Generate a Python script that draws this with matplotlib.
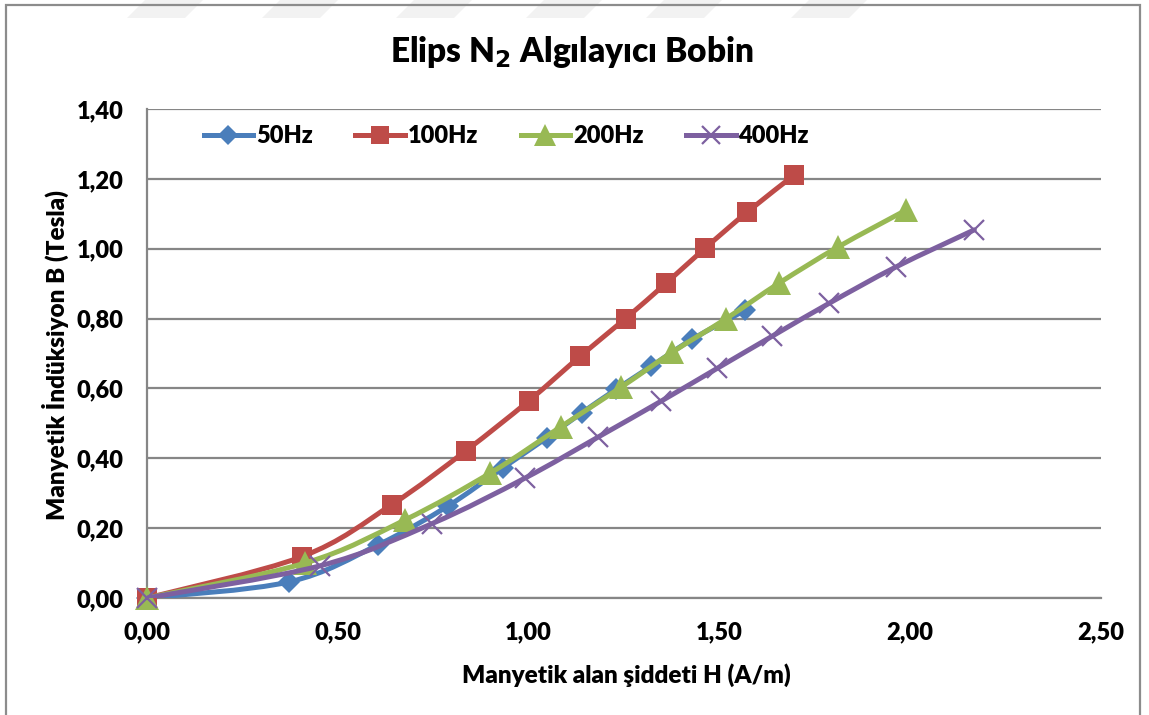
import matplotlib.pyplot as plt
from matplotlib.lines import Line2D
from matplotlib.patches import PathPatch, Polygon, Rectangle
from matplotlib.path import Path
from matplotlib.ticker import FuncFormatter, MultipleLocator

plt.rcParams["font.family"] = ["Lato", "DejaVu Sans"]
plt.rcParams["font.weight"] = "heavy"

# Magnetic field strength H (A/m) and flux density B (Tesla) per frequency
h_50 = [0, 0.372, 0.605, 0.788, 0.932, 1.047, 1.139, 1.230, 1.322, 1.429, 1.568]
b_50 = [0, 0.046, 0.152, 0.263, 0.372, 0.458, 0.530, 0.598, 0.664, 0.741, 0.824]
h_100 = [0, 0.405, 0.641, 0.835, 1.000, 1.136, 1.254, 1.361, 1.463, 1.573, 1.696]
b_100 = [0, 0.118, 0.267, 0.421, 0.564, 0.693, 0.800, 0.902, 1.002, 1.105, 1.211]
h_200 = [0, 0.414, 0.675, 0.900, 1.084, 1.243, 1.377, 1.518, 1.657, 1.811, 1.990]
b_200 = [0, 0.100, 0.223, 0.358, 0.490, 0.604, 0.704, 0.800, 0.902, 1.005, 1.111]
h_400 = [0, 0.453, 0.747, 0.990, 1.181, 1.348, 1.495, 1.639, 1.788, 1.963, 2.168]
b_400 = [0, 0.092, 0.213, 0.343, 0.460, 0.564, 0.658, 0.750, 0.844, 0.948, 1.054]

labels = ["50Hz", "100Hz", "200Hz", "400Hz"]
colors = ["#4A7EBB", "#BE4B48", "#98B954", "#7D60A0"]
markers = ["D", "s", "^", "x"]
marker_sizes = [11, 14, 17, 14]

WEIGHT = "heavy"


def smooth_path(xs, ys):
    # cubic bezier through the points, Catmull-Rom style tangents
    pts = list(zip(xs, ys))
    verts = [pts[0]]
    codes = [Path.MOVETO]
    for i in range(len(pts) - 1):
        p0 = pts[max(i - 1, 0)]
        p1 = pts[i]
        p2 = pts[i + 1]
        p3 = pts[min(i + 2, len(pts) - 1)]
        c1 = (p1[0] + (p2[0] - p0[0]) / 6, p1[1] + (p2[1] - p0[1]) / 6)
        c2 = (p2[0] - (p3[0] - p1[0]) / 6, p2[1] - (p3[1] - p1[1]) / 6)
        verts += [c1, c2, p2]
        codes += [Path.CURVE4] * 3
    return Path(verts, codes)


def fmt(v, _):
    return f"{v:.2f}".replace(".", ",")


def main():
    fig = plt.figure(figsize=(11.49, 7.15), dpi=100)
    ax = fig.add_axes([147 / 1149, 1 - 598 / 715, 954 / 1149, 489 / 715])

    series = [(h_50, b_50), (h_100, b_100), (h_200, b_200), (h_400, b_400)]
    handles = []
    for i, (hx, by) in enumerate(series):
        z = 3 + i
        ax.add_patch(PathPatch(smooth_path(hx, by), fill=False, edgecolor=colors[i],
                               lw=3.6, capstyle="round", joinstyle="round", zorder=z))
        mew = 1.6 if markers[i] == "x" else 0
        ax.plot(hx, by, linestyle="none", marker=markers[i], ms=marker_sizes[i],
                color=colors[i], mew=mew, zorder=z, clip_on=False)
        handles.append(Line2D([], [], color=colors[i], lw=3.6, marker=markers[i],
                              ms=marker_sizes[i] * 0.9, mew=mew))

    ax.set_xlim(0, 2.5)
    ax.set_ylim(0, 1.4)
    ax.xaxis.set_major_locator(MultipleLocator(0.5))
    ax.yaxis.set_major_locator(MultipleLocator(0.2))
    ax.xaxis.set_major_formatter(FuncFormatter(fmt))
    ax.yaxis.set_major_formatter(FuncFormatter(fmt))
    ax.tick_params(length=0, labelsize=17, pad=17)
    for lab in ax.get_xticklabels() + ax.get_yticklabels():
        lab.set_fontweight(WEIGHT)

    ax.grid(axis="y", color="#868686", lw=1.6)
    ax.set_axisbelow(True)
    for side in ("top", "right"):
        ax.spines[side].set_visible(False)
    for side in ("left", "bottom"):
        ax.spines[side].set_color("#868686")
        ax.spines[side].set_linewidth(1.6)

    ax.legend(handles, labels, loc="upper left", bbox_to_anchor=(0.037, 1.01), ncol=4,
              frameon=False, handlelength=2.1, handletextpad=0.12,
              columnspacing=1.8, prop={"weight": WEIGHT, "size": 17})

    fig.text(0.498, 1 - 52 / 715, "Elips N$_\\mathbf{2}$ Algılayıcı Bobin",
             ha="center", va="center", fontsize=24, fontweight=WEIGHT)
    fig.text(626 / 1149, 1 - 675 / 715, "Manyetik alan şiddeti H (A/m)",
             ha="center", va="center", fontsize=17.5, fontweight=WEIGHT)
    fig.text(55 / 1149, 1 - 355 / 715, "Manyetik İndüksiyon B (Tesla)",
             ha="center", va="center", rotation=90, fontsize=17.5, fontweight=WEIGHT)

    # faint diagonal bands across the top edge
    for x0 in (145, 280, 414, 544, 664, 809):
        band = [(x0 / 1149, 1.0), ((x0 + 58) / 1149, 1.0),
                ((x0 + 40) / 1149, 1 - 18 / 715), ((x0 - 18) / 1149, 1 - 18 / 715)]
        fig.add_artist(Polygon(band, closed=True, transform=fig.transFigure,
                               facecolor="#f2f2f2", edgecolor="none", zorder=0))

    # chart frame
    fig.add_artist(Rectangle((6 / 1149, -0.05), 1134 / 1149, 1.05 - 5 / 715,
                             transform=fig.transFigure, fill=False,
                             edgecolor="#8c8c8c", lw=1.6, zorder=1))

    fig.savefig("out.png", dpi=100)


if __name__ == "__main__":
    main()
